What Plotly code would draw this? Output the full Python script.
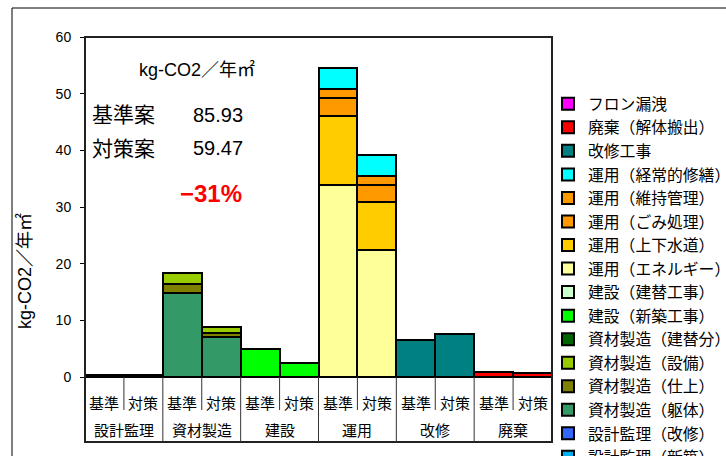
import plotly.graph_objects as go

# Stage groups along the x axis and the two cases inside each group
groups = ["設計監理", "資材製造", "建設", "運用", "改修", "廃棄"]
cases = ["基準", "対策"]

# kg-CO2/年㎡ per component, order: (group, case) pairs left to right
# None = component not part of that bar
design_new      = [0.3, 0.3, None, None, None, None, None, None, None, None, None, None]
design_renov    = [None] * 12
mat_frame       = [None, None, 14.8, 7.1, None, None, None, None, None, None, None, None]
mat_finish      = [None, None, 1.6, 0.6, None, None, None, None, None, None, None, None]
mat_equip       = [None, None, 2.0, 1.2, None, None, None, None, None, None, None, None]
mat_rebuild     = [None] * 12
build_new       = [None, None, None, None, 5.0, 2.4, None, None, None, None, None, None]
build_rebuild   = [None] * 12
op_energy       = [None, None, None, None, None, None, 33.9, 22.4, None, None, None, None]
op_water        = [None, None, None, None, None, None, 12.2, 8.4, None, None, None, None]
op_waste        = [None, None, None, None, None, None, 3.1, 3.1, None, None, None, None]
op_maint        = [None, None, None, None, None, None, 1.6, 1.6, None, None, None, None]
op_repair       = [None, None, None, None, None, None, 3.7, 3.7, None, None, None, None]
renovation      = [None, None, None, None, None, None, None, None, 6.5, 7.6, None, None]
disposal        = [None, None, None, None, None, None, None, None, None, None, 0.95, 0.7]
freon           = [None] * 12

totals = {"基準案": "85.93", "対策案": "59.47"}
reduction = "−31%"
unit = "kg-CO2／年㎡"

# stacking order bottom -> top
series = [
    ("設計監理（新築）", design_new, "#00B0F0"),
    ("設計監理（改修）", design_renov, "#3366FF"),
    ("資材製造（躯体）", mat_frame, "#339966"),
    ("資材製造（仕上）", mat_finish, "#808000"),
    ("資材製造（設備）", mat_equip, "#99CC00"),
    ("資材製造（建替分）", mat_rebuild, "#006600"),
    ("建設（新築工事）", build_new, "#00FF00"),
    ("建設（建替工事）", build_rebuild, "#CCFFCC"),
    ("運用（エネルギー）", op_energy, "#FFFF99"),
    ("運用（上下水道）", op_water, "#FFCC00"),
    ("運用（ごみ処理）", op_waste, "#FF9900"),
    ("運用（維持管理）", op_maint, "#FF9900"),
    ("運用（経常的修繕）", op_repair, "#00FFFF"),
    ("改修工事", renovation, "#008080"),
    ("廃棄（解体搬出）", disposal, "#FF0000"),
    ("フロン漏洩", freon, "#FF00FF"),
]

JP = "Liberation Sans, Arial, Noto Sans CJK JP"

# pixel geometry of the plot frame inside the 726x456 page
W, H = 726, 456
L, R, T, B = 85, 552, 37, 442
Y0 = 377  # pixel row of value 0


def px(x):
    return (x - L) / (R - L)


def py(y):
    return (B - y) / (B - T)


xpos = list(range(len(groups) * len(cases)))

fig = go.Figure()
for name, vals, color in series:
    fig.add_trace(go.Bar(
        x=xpos, y=vals, name=name,
        marker=dict(color=color, line=dict(color="black", width=2)),
    ))

annotations = []
# case labels row
for i, x in enumerate(xpos):
    annotations.append(dict(x=x, y=py(403), xref="x", yref="paper",
                            xanchor="center", yanchor="middle",
                            text=cases[i % 2], showarrow=False,
                            font=dict(size=15, family=JP, color="black")))
# group labels row
for g, name in enumerate(groups):
    annotations.append(dict(x=2 * g + 0.5, y=py(430), xref="x", yref="paper",
                            xanchor="center", yanchor="middle",
                            text=name, showarrow=False,
                            font=dict(size=15, family=JP, color="black")))

# y-axis title and summary text block
annotations += [
    dict(x=px(24), y=py(271), xref="paper", yref="paper", text=unit,
         xanchor="center", yanchor="middle",
         textangle=-90, showarrow=False, font=dict(size=18, family=JP, color="black")),
    dict(x=px(197), y=py(69), xref="paper", yref="paper", text=unit,
         xanchor="center", yanchor="middle",
         showarrow=False, font=dict(size=18, family=JP, color="black")),
]
for (label, value), yy in zip(totals.items(), [115, 148]):
    annotations.append(dict(x=px(90), y=py(yy), xref="paper", yref="paper", text=label,
                            xanchor="left", yanchor="middle", showarrow=False,
                            font=dict(size=21, family=JP, color="black")))
    annotations.append(dict(x=px(191), y=py(yy), xref="paper", yref="paper", text=value,
                            xanchor="left", yanchor="middle", showarrow=False,
                            font=dict(size=20, family=JP, color="black")))
annotations.append(dict(x=px(178), y=py(193), xref="paper", yref="paper",
                        text="<b>" + reduction + "</b>", xanchor="left", yanchor="middle",
                        showarrow=False,
                        font=dict(size=24, family=JP, color="#FF0000")))

shapes = []
# outer chart border
shapes.append(dict(type="rect", xref="paper", yref="paper",
                   x0=px(12), x1=px(W + 20), y0=py(H + 20), y1=py(8),
                   line=dict(color="black", width=1), layer="below"))
# plot frame
shapes.append(dict(type="rect", xref="paper", yref="paper",
                   x0=0, x1=1, y0=0, y1=1,
                   line=dict(color="#222", width=2)))
# dividers of the category table below the bars
for k in range(len(xpos) - 1):
    bottom = py(410) if k % 2 == 0 else 0
    shapes.append(dict(type="line", xref="x", yref="paper",
                       x0=k + 0.5, x1=k + 0.5, y0=py(Y0), y1=bottom,
                       line=dict(color="#333", width=1)))

fig.update_layout(
    width=W, height=H,
    margin=dict(l=L, r=W - R, t=T, b=H - B, autoexpand=False),
    barmode="stack", bargap=0,
    paper_bgcolor="white", plot_bgcolor="white",
    font=dict(family=JP, color="black"),
    xaxis=dict(range=[-0.5, 11.5], showticklabels=False, ticks="",
               showgrid=False, zeroline=False, showline=True,
               linecolor="black", linewidth=1),
    yaxis=dict(range=[0, 60], domain=[py(Y0), 1], tickvals=[0, 10, 20, 30, 40, 50, 60],
               ticks="outside", ticklen=4, tickcolor="black", ticklabelstandoff=6,
               showgrid=False, zeroline=False, showline=True,
               linecolor="black", linewidth=1,
               tickfont=dict(size=14, family="Liberation Sans, Arial", color="black")),
    legend=dict(x=px(548), y=py(87), xanchor="left", yanchor="top",
                traceorder="reversed", font=dict(size=15.8, family=JP, color="black"),
                bgcolor="rgba(0,0,0,0)", borderwidth=0),
    annotations=annotations,
    shapes=shapes,
)

fig.write_html("out.html")
